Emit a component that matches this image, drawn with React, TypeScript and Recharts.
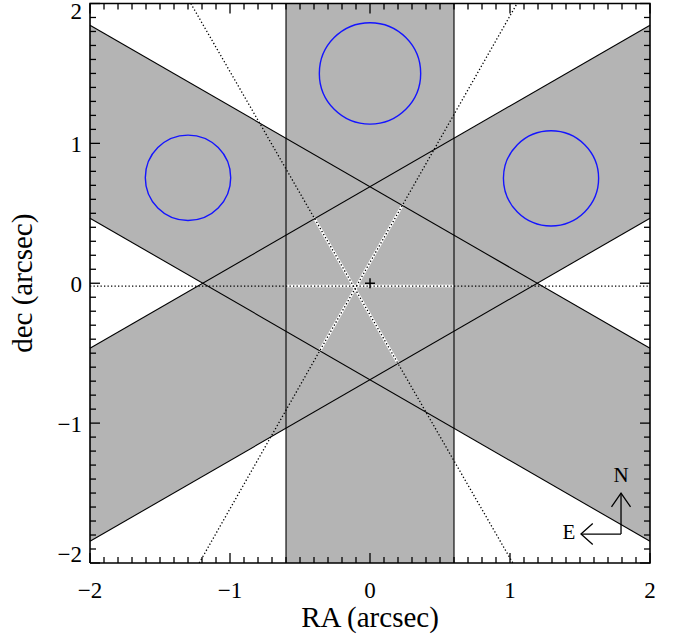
import React from 'react';
import { ComposedChart, XAxis, YAxis, Scatter } from 'recharts';

const FONT = '"Liberation Serif", "Times New Roman", Times, serif';
const GRAY = '#b4b4b4';
const BLUE = '#1414ff';

type P = { x: number; y: number };

// axis ticks
const majorTicks = [-2, -1, 0, 1, 2];
const minorTicks = [
  -1.9, -1.8, -1.7, -1.6, -1.5, -1.4, -1.3, -1.2, -1.1, -0.9, -0.8, -0.7, -0.6, -0.5, -0.4, -0.3, -0.2, -0.1,
  0.1, 0.2, 0.3, 0.4, 0.5, 0.6, 0.7, 0.8, 0.9, 1.1, 1.2, 1.3, 1.4, 1.5, 1.6, 1.7, 1.8, 1.9,
];

const AX_MIN = -2;
const AX_MAX = 2;

// plot frame corners
const frame: P[] = [
  { x: AX_MIN, y: AX_MIN }, { x: AX_MIN, y: AX_MAX }, { x: AX_MAX, y: AX_MAX }, { x: AX_MAX, y: AX_MIN }, { x: AX_MIN, y: AX_MIN },
];

// shaded bands (polygons)
const bandVertical: P[] = [
  { x: -0.6, y: -2 }, { x: -0.6, y: 2 }, { x: 0.6, y: 2 }, { x: 0.6, y: -2 },
];
const bandFalling: P[] = [
  { x: -2, y: 1.845 }, { x: 2, y: -0.465 }, { x: 2, y: -1.845 }, { x: -2, y: 0.465 },
];
const bandRising: P[] = [
  { x: -2, y: -1.845 }, { x: 2, y: 0.465 }, { x: 2, y: 1.845 }, { x: -2, y: -0.465 },
];

// band edges
const edgeLines: P[][] = [
  [{ x: -0.6, y: -2 }, { x: -0.6, y: 2 }],
  [{ x: 0.6, y: -2 }, { x: 0.6, y: 2 }],
  [{ x: -2, y: 1.845 }, { x: 2, y: -0.465 }],
  [{ x: -2, y: 0.465 }, { x: 2, y: -1.845 }],
  [{ x: -2, y: -1.845 }, { x: 2, y: 0.465 }],
  [{ x: -2, y: -0.465 }, { x: 2, y: 1.845 }],
];

// dotted lines and their white part inside the common core
const dottedLines: P[][] = [
  [{ x: -2, y: -0.02 }, { x: 2, y: -0.02 }],
  [{ x: -1.28, y: 2 }, { x: 1.02, y: -2 }],
  [{ x: -1.22, y: -2 }, { x: 1.05, y: 2 }],
];
const whiteSegments: P[][] = [
  [{ x: -0.6, y: -0.02 }, { x: 0.6, y: -0.02 }],
  [{ x: -0.4, y: 0.469 }, { x: 0.205, y: -0.582 }],
  [{ x: -0.363, y: -0.49 }, { x: 0.235, y: 0.564 }],
];

// circles: centre and radius (arcsec)
const circleX = [0, -1.3, 1.293];
const circleY = [1.5, 0.754, 0.75];
const circleR = [0.362, 0.305, 0.34];
const circleData: P[][] = circleX.map((cx, i) => [
  { x: cx, y: circleY[i] },
  { x: cx + circleR[i], y: circleY[i] },
]);

// centre marker
const centre: P[] = [{ x: 0, y: 0 }];

// compass
const compassLines: P[][] = [
  [{ x: 1.793, y: -1.793 }, { x: 1.793, y: -1.5 }],
  [{ x: 1.725, y: -1.598 }, { x: 1.793, y: -1.5 }, { x: 1.861, y: -1.598 }],
  [{ x: 1.793, y: -1.793 }, { x: 1.507, y: -1.793 }],
  [{ x: 1.591, y: -1.718 }, { x: 1.507, y: -1.793 }, { x: 1.591, y: -1.868 }],
];
const compassLabels = [
  { x: 1.793, y: -1.371, label: 'N' },
  { x: 1.421, y: -1.779, label: 'E' },
];

const Empty = () => <g />;

const fmt = (v: number) => (v < 0 ? `\u2212${Math.abs(v)}` : `${v}`);

const TICK_FS = 23;
const TITLE_FS = 29;
const W = 681;
const H = 637;
const MARGIN = { top: 3.5, right: 31, bottom: 74, left: 90 };
const MAJOR = 10;
const MINOR = 6;

type Side = 'bottom' | 'top' | 'left' | 'right';
const SIDES: Side[] = ['bottom', 'top', 'left', 'right'];

// inward tick marks placed by the chart scales
const makeMark = (side: Side, len: number) => (p: any) => {
  const { cx, cy } = p;
  let x2 = cx;
  let y2 = cy;
  if (side === 'bottom') y2 = cy - len;
  else if (side === 'top') y2 = cy + len;
  else if (side === 'left') x2 = cx + len;
  else x2 = cx - len;
  return (
    <g>
      <line x1={cx} y1={cy} x2={x2} y2={y2} stroke="#000" strokeWidth={1.3} />
    </g>
  );
};

const tickPoints = (vals: number[], side: Side): P[] =>
  vals.map((v) =>
    side === 'bottom'
      ? { x: v, y: AX_MIN }
      : side === 'top'
      ? { x: v, y: AX_MAX }
      : side === 'left'
      ? { x: AX_MIN, y: v }
      : { x: AX_MAX, y: v },
  );

// stable tick-mark series (built once)
const tickSeries = [
  ...SIDES.map((s) => ({ key: `maj-${s}`, data: tickPoints(majorTicks, s), shape: makeMark(s, MAJOR) })),
  ...SIDES.map((s) => ({ key: `min-${s}`, data: tickPoints(minorTicks, s), shape: makeMark(s, MINOR) })),
];

const renderXTick = (props: any) => {
  const { x, y, payload } = props;
  return (
    <text x={x} y={y + 45} textAnchor="middle" fontFamily={FONT} fontSize={TICK_FS} fill="#000">
      {fmt(payload.value)}
    </text>
  );
};

const renderYTick = (props: any) => {
  const { x, y, payload } = props;
  const v = payload.value;
  const shift = v === 2 ? 15.4 : v === -2 ? -1 : 9;
  return (
    <text x={x - 18} y={y + shift} textAnchor="end" fontFamily={FONT} fontSize={TICK_FS} fill="#000">
      {fmt(v)}
    </text>
  );
};

const XTitle = (p: any) => {
  const vb = p.viewBox || { x: 90, y: 563, width: 560, height: 0 };
  return (
    <text x={vb.x + vb.width / 2} y={vb.y + 64} textAnchor="middle" fontFamily={FONT} fontSize={TITLE_FS} fill="#000">
      RA (arcsec)
    </text>
  );
};

const YTitle = (p: any) => {
  const vb = p.viewBox || { x: 90, y: 3.5, width: 0, height: 560 };
  const cx = vb.x + vb.width - 58;
  const cy = vb.y + vb.height / 2;
  return (
    <text
      x={cx}
      y={cy}
      transform={`rotate(-90, ${cx}, ${cy})`}
      textAnchor="middle"
      fontFamily={FONT}
      fontSize={TITLE_FS}
      fill="#000"
    >
      dec (arcsec)
    </text>
  );
};

const grayPolygon = (p: any) => {
  const pts = (p.points || []).map((q: any) => `${q.x},${q.y}`).join(' ');
  return <polygon points={pts} fill={GRAY} stroke="none" />;
};

const circleLine = (p: any) => {
  const [c, e] = p.points;
  return <circle cx={c.x} cy={c.y} r={Math.abs(e.x - c.x)} fill="none" stroke={BLUE} strokeWidth={1.4} />;
};

const crossShape = (p: any) => {
  const { cx, cy } = p;
  return (
    <g stroke="#000" strokeWidth={1.5}>
      <line x1={cx - 5} y1={cy} x2={cx + 5} y2={cy} />
      <line x1={cx} y1={cy - 5} x2={cx} y2={cy + 5} />
    </g>
  );
};

const labelShape = (p: any) => (
  <text x={p.cx} y={p.cy + 7} textAnchor="middle" fontFamily={FONT} fontSize={21} fill="#000">
    {p.payload.label}
  </text>
);

const whiteLine = { stroke: '#fff', strokeWidth: 2.6, fill: 'none' };
const dotLine = { stroke: '#000', strokeWidth: 1.3, strokeDasharray: '1.3 2.2', fill: 'none' };
const edgeLine = { stroke: '#000', strokeWidth: 1.1, fill: 'none' };
const arrowLine = { stroke: '#000', strokeWidth: 1.3, fill: 'none' };
const frameLine = { stroke: '#000', strokeWidth: 1.6, fill: 'none' };

const common: any = {
  type: 'number',
  domain: [AX_MIN, AX_MAX],
  interval: 0,
  tickLine: false,
  tickMargin: 0,
  axisLine: false,
};

export default function App() {
  return (
    <div style={{ position: 'absolute', left: 0, top: 0, width: W, height: H, background: '#fff' }}>
      <ComposedChart width={W} height={H} margin={MARGIN}>
        <XAxis
          {...common}
          xAxisId={0}
          dataKey="x"
          ticks={majorTicks}
          height={0.01}
          tickSize={-MAJOR}
          tick={renderXTick}
          label={{ content: XTitle } as any}
        />
        <YAxis
          {...common}
          yAxisId={0}
          dataKey="y"
          ticks={majorTicks}
          width={0.01}
          tickSize={-MAJOR}
          tick={renderYTick}
          label={{ content: YTitle } as any}
        />

        <Scatter data={bandVertical} shape={Empty} line={grayPolygon} isAnimationActive={false} />
        <Scatter data={bandFalling} shape={Empty} line={grayPolygon} isAnimationActive={false} />
        <Scatter data={bandRising} shape={Empty} line={grayPolygon} isAnimationActive={false} />

        {whiteSegments.map((seg, i) => (
          <Scatter key={`w${i}`} data={seg} shape={Empty} line={whiteLine} isAnimationActive={false} />
        ))}
        {dottedLines.map((seg, i) => (
          <Scatter key={`d${i}`} data={seg} shape={Empty} line={dotLine} isAnimationActive={false} />
        ))}
        {edgeLines.map((seg, i) => (
          <Scatter key={`e${i}`} data={seg} shape={Empty} line={edgeLine} isAnimationActive={false} />
        ))}
        {circleData.map((seg, i) => (
          <Scatter key={`c${i}`} data={seg} shape={Empty} line={circleLine} isAnimationActive={false} />
        ))}
        <Scatter data={centre} shape={crossShape} isAnimationActive={false} />
        {compassLines.map((seg, i) => (
          <Scatter key={`k${i}`} data={seg} shape={Empty} line={arrowLine} isAnimationActive={false} />
        ))}
        <Scatter data={compassLabels} shape={labelShape} isAnimationActive={false} />

        {tickSeries.map((t) => (
          <Scatter key={t.key} data={t.data} shape={t.shape} isAnimationActive={false} />
        ))}
        <Scatter data={frame} shape={Empty} line={frameLine} isAnimationActive={false} />
      </ComposedChart>
    </div>
  );
}
